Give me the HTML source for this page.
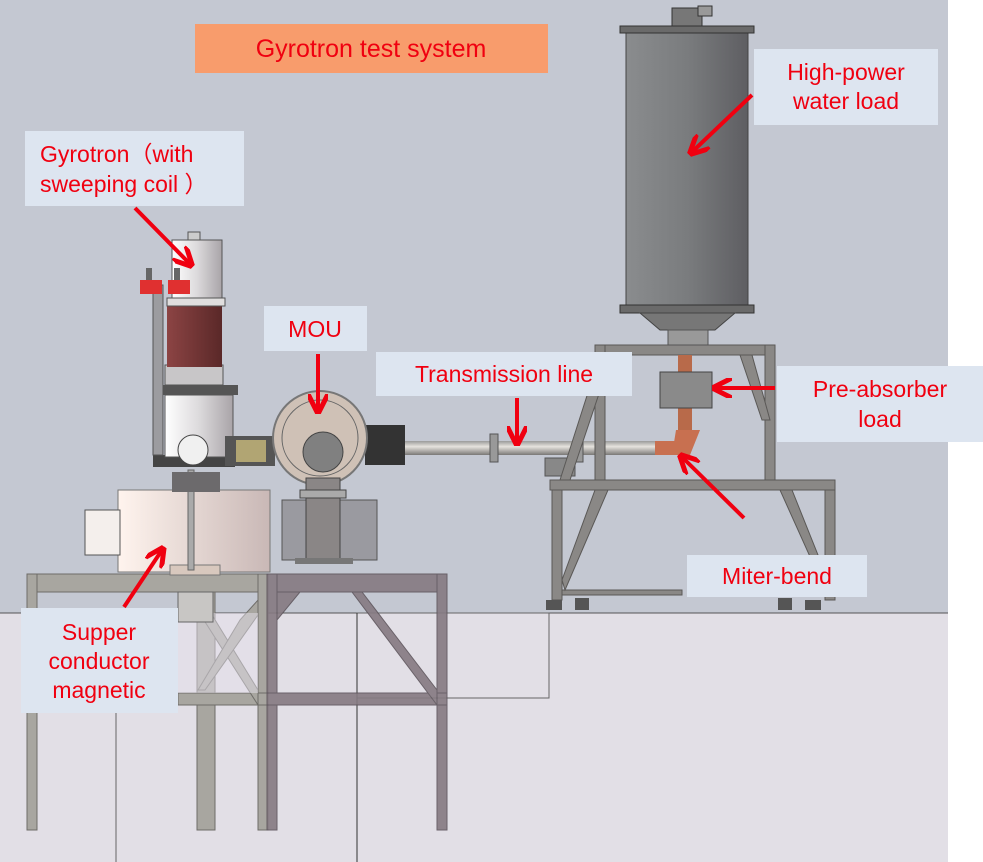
<!DOCTYPE html>
<html><head><meta charset="utf-8"><style>
html,body{margin:0;padding:0;background:#fff}
svg{display:block}
text{font-family:"Liberation Sans","DejaVu Sans",sans-serif;fill:#f00010}
</style></head><body>
<svg width="983" height="862" viewBox="0 0 983 862" xmlns="http://www.w3.org/2000/svg">
<defs>
<linearGradient id="wl" x1="0" x2="1"><stop offset="0" stop-color="#8a8c8e"/><stop offset="0.5" stop-color="#7a7c7e"/><stop offset="1" stop-color="#5e5e62"/></linearGradient>
<linearGradient id="gy" x1="0" x2="1"><stop offset="0" stop-color="#ffffff"/><stop offset="0.5" stop-color="#dcdadc"/><stop offset="1" stop-color="#a9a4a8"/></linearGradient>
<linearGradient id="rd" x1="0" x2="1"><stop offset="0" stop-color="#8c4444"/><stop offset="1" stop-color="#5a2828"/></linearGradient>
<linearGradient id="mg" x1="0" x2="1"><stop offset="0" stop-color="#fff4ee"/><stop offset="1" stop-color="#c9b8b6"/></linearGradient>
<linearGradient id="tb" x1="0" y1="0" x2="0" y2="1"><stop offset="0" stop-color="#9a9a9a"/><stop offset="0.4" stop-color="#e6e3de"/><stop offset="1" stop-color="#7a7876"/></linearGradient>
<marker id="ah" viewBox="0 0 10 10" refX="8" refY="5" markerWidth="5" markerHeight="5" orient="auto"><path d="M0,0 L10,5 L0,10" fill="none" stroke="#f00010" stroke-width="2.5"/></marker>
</defs>
<rect x="0" y="0" width="948" height="862" fill="#c4c8d2"/>
<rect x="948" y="0" width="35" height="862" fill="#ffffff"/>
<rect x="0" y="613" width="948" height="249" fill="#e2dfe6"/>
<line x1="0" y1="613" x2="948" y2="613" stroke="#555" stroke-width="1"/>
<rect x="357" y="613" width="192" height="85" fill="none" stroke="#666" stroke-width="1"/>
<line x1="357" y1="613" x2="357" y2="862" stroke="#333" stroke-width="1"/>
<line x1="116" y1="693" x2="116" y2="862" stroke="#666" stroke-width="1"/>

<g fill="#a8a6a0" stroke="#6e6c68" stroke-width="1">
<rect x="27" y="574" width="240" height="18"/>
<rect x="27" y="574" width="10" height="256"/>
<rect x="258" y="574" width="10" height="256"/>
<rect x="197" y="592" width="18" height="238"/>
<rect x="178" y="693" width="90" height="12"/>
<polygon points="186,592 198,592 258,690 258,705"/>
<polygon points="240,620 258,600 258,615 205,690 198,690"/>
</g>
<g fill="#857a82" stroke="#5e555c" stroke-width="1" opacity="0.9">
<rect x="267" y="574" width="180" height="18"/>
<rect x="267" y="574" width="10" height="256"/>
<rect x="437" y="574" width="10" height="256"/>
<rect x="267" y="693" width="180" height="12"/>
<polygon points="352,592 362,592 437,690 437,705"/>
<polygon points="277,592 300,592 277,620"/>
</g>
<rect x="37" y="613" width="221" height="80" fill="#e4e0ea" opacity="0.5"/>

<rect x="118" y="490" width="152" height="82" fill="url(#mg)" stroke="#777" stroke-width="1"/>
<rect x="85" y="510" width="35" height="45" fill="#f4efec" stroke="#555" stroke-width="1"/>
<rect x="170" y="565" width="50" height="10" fill="#d8c8be" stroke="#777"/>
<rect x="188" y="470" width="6" height="100" fill="#aaa" stroke="#666"/>
<rect x="178" y="592" width="35" height="30" fill="#c8c6c4" stroke="#666"/>

<rect x="172" y="472" width="48" height="20" fill="#6c6a6c"/>
<rect x="153" y="455" width="82" height="12" fill="#444"/>
<rect x="165" y="395" width="68" height="62" fill="url(#gy)" stroke="#555"/>
<rect x="160" y="385" width="78" height="10" fill="#555"/>
<rect x="165" y="365" width="58" height="20" fill="#c8c6c8" stroke="#555"/>
<rect x="167" y="305" width="55" height="62" fill="url(#rd)"/>
<rect x="167" y="298" width="58" height="8" fill="#e0dede" stroke="#555"/>
<rect x="172" y="240" width="50" height="58" fill="url(#gy)" stroke="#555"/>
<rect x="188" y="232" width="12" height="8" fill="#ccc" stroke="#555"/>
<rect x="153" y="285" width="10" height="170" fill="#9c9ca0" stroke="#555"/>
<rect x="140" y="280" width="22" height="14" fill="#e03030"/>
<rect x="168" y="280" width="22" height="14" fill="#e03030"/>
<rect x="146" y="268" width="6" height="12" fill="#666"/>
<rect x="174" y="268" width="6" height="12" fill="#666"/>
<circle cx="193" cy="450" r="15" fill="#f0f0f0" stroke="#444"/>

<rect x="225" y="436" width="50" height="30" fill="#555"/>
<rect x="236" y="440" width="30" height="22" fill="#d8c880" opacity="0.7"/>
<rect x="365" y="425" width="40" height="40" fill="#333"/>
<rect x="282" y="500" width="95" height="60" fill="#9a9aa0" stroke="#555"/>
<circle cx="320" cy="438" r="47" fill="#cfc1b6" stroke="#777" stroke-width="2"/>
<circle cx="320" cy="438" r="38" fill="none" stroke="#666"/>
<circle cx="323" cy="452" r="20" fill="#808080" stroke="#444"/>
<rect x="306" y="478" width="34" height="82" fill="#8a8686" stroke="#444"/>
<rect x="300" y="490" width="46" height="8" fill="#aaa" stroke="#444"/>
<rect x="295" y="558" width="58" height="6" fill="#777"/>

<rect x="405" y="441" width="265" height="14" fill="url(#tb)"/>
<rect x="490" y="434" width="8" height="28" fill="#999" stroke="#555"/>
<rect x="575" y="434" width="8" height="28" fill="#999" stroke="#555"/>
<rect x="545" y="458" width="30" height="18" fill="#888" stroke="#555"/>
<rect x="655" y="441" width="22" height="14" fill="#c87050"/>

<g fill="#8a8886" stroke="#5a5856" stroke-width="1">
<rect x="595" y="345" width="180" height="10"/>
<rect x="595" y="345" width="10" height="135"/>
<rect x="765" y="345" width="10" height="135"/>
<rect x="550" y="480" width="285" height="10"/>
<rect x="552" y="490" width="10" height="110"/>
<rect x="825" y="490" width="10" height="110"/>
<rect x="562" y="590" width="120" height="5"/>
<polygon points="600,355 612,355 570,480 560,480"/>
<polygon points="740,355 752,355 770,420 762,420"/>
<polygon points="595,490 608,490 565,590 562,580"/>
<polygon points="780,490 792,490 828,580 825,590"/>
</g>
<rect x="546" y="600" width="16" height="10" fill="#555"/>
<rect x="575" y="598" width="14" height="12" fill="#555"/>
<rect x="778" y="598" width="14" height="12" fill="#555"/>
<rect x="805" y="600" width="16" height="10" fill="#555"/>

<rect x="626" y="32" width="122" height="275" fill="url(#wl)" stroke="#444"/>
<rect x="620" y="26" width="134" height="7" fill="#6a6a6a" stroke="#333"/>
<rect x="620" y="305" width="134" height="8" fill="#6a6a6a" stroke="#333"/>
<rect x="672" y="8" width="30" height="18" fill="#777" stroke="#333"/>
<rect x="698" y="6" width="14" height="10" fill="#999" stroke="#333"/>
<polygon points="640,313 735,313 715,330 660,330" fill="#777" stroke="#444"/>
<rect x="668" y="330" width="40" height="15" fill="#999" stroke="#555"/>
<rect x="678" y="355" width="14" height="90" fill="#b86a4a"/>
<rect x="660" y="372" width="52" height="36" fill="#8a8a8a" stroke="#444"/>
<polygon points="676,430 700,430 690,455 672,455" fill="#c87050"/>

<rect x="195" y="24" width="353" height="49" fill="#f89c6c"/>
<text x="371" y="57" font-size="25" text-anchor="middle">Gyrotron test system</text>

<rect x="25" y="131" width="219" height="75" fill="#dde5f0"/>
<text x="40" y="162" font-size="23">Gyrotron（with</text>
<text x="40" y="192" font-size="23">sweeping coil  ）</text>

<rect x="264" y="306" width="103" height="45" fill="#dde5f0"/>
<text x="315" y="337" font-size="23" text-anchor="middle">MOU</text>

<rect x="376" y="352" width="256" height="44" fill="#dde5f0"/>
<text x="504" y="382" font-size="23" text-anchor="middle">Transmission line</text>

<rect x="754" y="49" width="184" height="76" fill="#dde5f0"/>
<text x="846" y="80" font-size="23" text-anchor="middle">High-power</text>
<text x="846" y="109" font-size="23" text-anchor="middle">water load</text>

<rect x="777" y="366" width="206" height="76" fill="#dde5f0"/>
<text x="880" y="397" font-size="23" text-anchor="middle">Pre-absorber</text>
<text x="880" y="427" font-size="23" text-anchor="middle">load</text>

<rect x="687" y="555" width="180" height="42" fill="#dde5f0"/>
<text x="777" y="584" font-size="23" text-anchor="middle">Miter-bend</text>

<rect x="21" y="608" width="157" height="105" fill="#dde5f0"/>
<text x="99" y="640" font-size="23" text-anchor="middle">Supper</text>
<text x="99" y="669" font-size="23" text-anchor="middle">conductor</text>
<text x="99" y="698" font-size="23" text-anchor="middle">magnetic</text>

<g stroke="#f00010" stroke-width="4" fill="none" marker-end="url(#ah)">
<line x1="135" y1="208" x2="190" y2="264"/>
<line x1="318" y1="354" x2="318" y2="410"/>
<line x1="517" y1="398" x2="517" y2="442"/>
<line x1="752" y1="95" x2="692" y2="152"/>
<line x1="775" y1="388" x2="716" y2="388"/>
<line x1="744" y1="518" x2="682" y2="457"/>
<line x1="124" y1="607" x2="162" y2="550"/>
</g>
</svg>
</body></html>
